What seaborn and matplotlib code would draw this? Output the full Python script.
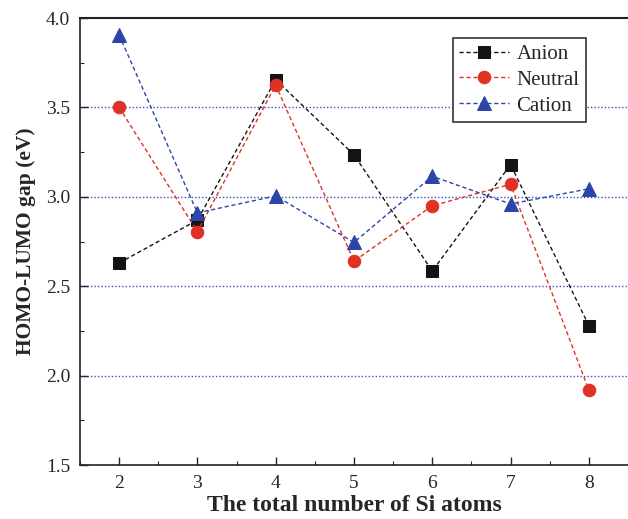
import matplotlib
matplotlib.use("Agg")
import matplotlib.pyplot as plt
import seaborn as sns
import pandas as pd
from matplotlib.ticker import MultipleLocator

n_atoms = [2, 3, 4, 5, 6, 7, 8]
anion = [2.63, 2.87, 3.655, 3.235, 2.585, 3.18, 2.28]
neutral = [3.50, 2.805, 3.625, 2.64, 2.95, 3.07, 1.92]
cation = [3.905, 2.91, 3.005, 2.745, 3.115, 2.96, 3.045]

series = {"Anion": anion, "Neutral": neutral, "Cation": cation}
colors = {"Anion": "#141414", "Neutral": "#e03224", "Cation": "#2b45a8"}
markers = {"Anion": "s", "Neutral": "o", "Cation": "^"}

df = pd.DataFrame([
    {"n": n, "gap": v, "state": s}
    for s, vals in series.items() for n, v in zip(n_atoms, vals)
])

sns.set_style("ticks")
plt.rcParams["font.family"] = ["Liberation Serif", "DejaVu Serif"]

fig = plt.figure(figsize=(6.28, 5.19), dpi=100)
ax = fig.add_axes([0.1274, 0.104, 0.8726, 0.8613])

for y in [2.0, 2.5, 3.0, 3.5]:
    ax.axhline(y, color="#3a4fc0", lw=1.0, ls=(0, (1, 1.5)), zorder=0)

for s in series:
    sub = df[df.state == s]
    sns.lineplot(data=sub, x="n", y="gap", ax=ax, color=colors[s],
                 marker=markers[s], markersize=9 if s != "Cation" else 10,
                 markeredgecolor=colors[s], linestyle=(0, (3, 2)), lw=1.0,
                 label=s, zorder=3)

ax.set_xlim(1.5, 8.5)
ax.set_ylim(1.5, 4.0)
ax.xaxis.set_major_locator(MultipleLocator(1))
ax.xaxis.set_minor_locator(MultipleLocator(0.5))
ax.yaxis.set_major_locator(MultipleLocator(0.5))
ax.yaxis.set_minor_locator(MultipleLocator(0.25))
ax.yaxis.set_major_formatter(matplotlib.ticker.FormatStrFormatter("%.1f"))
ax.tick_params(which="both", direction="in", top=False, right=False)
ax.tick_params(which="major", length=6, width=1.0, labelsize=14, pad=7)
ax.tick_params(which="minor", length=3, width=0.8)
ax.spines["right"].set_visible(False)
for sp in ax.spines.values():
    sp.set_linewidth(1.2)
    sp.set_color("#222222")
ax.spines["top"].set_linewidth(1.5)

ax.set_xlabel("The total number of Si atoms", fontsize=17, fontweight="bold", labelpad=2)
ax.set_ylabel("HOMO-LUMO gap (eV)", fontsize=15.5, fontweight="bold", labelpad=7)

leg = ax.legend(loc="upper right", bbox_to_anchor=(0.923, 0.955), fontsize=15,
                frameon=True, fancybox=False, edgecolor="#333333",
                handlelength=2.4, handletextpad=0.35, borderpad=0.3,
                labelspacing=0.3, borderaxespad=0)
leg.get_frame().set_linewidth(1.2)
leg.get_frame().set_alpha(1)

fig.savefig("out.png", dpi=100)
